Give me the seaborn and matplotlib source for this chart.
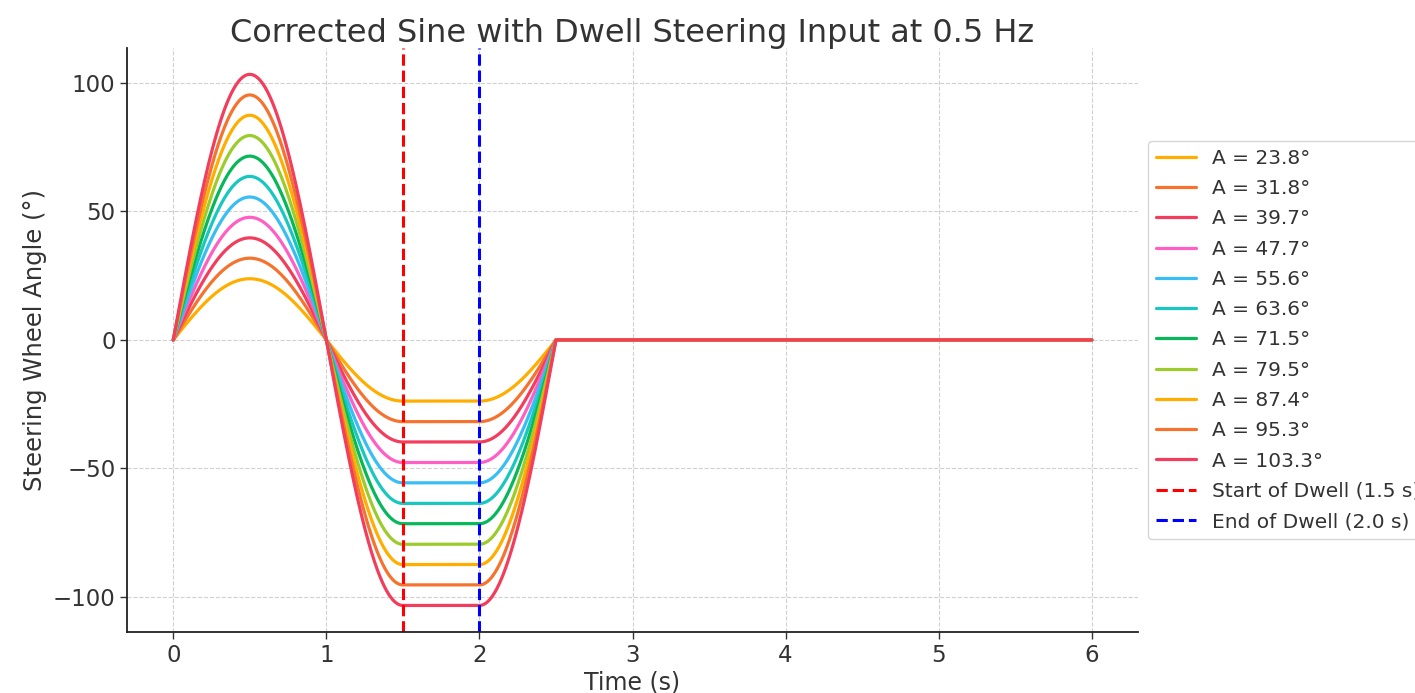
import numpy as np
import pandas as pd
import matplotlib
matplotlib.use("Agg")
import matplotlib.pyplot as plt
import seaborn as sns

# steering input parameters
amplitudes = [23.8, 31.8, 39.7, 47.7, 55.6, 63.6, 71.5, 79.5, 87.4, 95.3, 103.3]
freq_hz = 0.5
dwell_start = 1.5
dwell_end = 2.0
t_end = 6.0

colors = ['#FFAE00', '#F5732F', '#F23D5C', '#FF5FC4', '#38BEF5', '#18C8C0',
          '#06B85A', '#9CCB2C', '#FFAE00', '#F5732F', '#F23D5C']

# sine with dwell profile for each amplitude
t = np.linspace(0, t_end, 1201)
w = 2 * np.pi * freq_hz
rows = []
for a in amplitudes:
    y = np.where(t <= dwell_start, a * np.sin(w * t), 0.0)
    y = np.where((t > dwell_start) & (t <= dwell_end), -a, y)
    back = t - (dwell_end - dwell_start)
    y = np.where((t > dwell_end) & (back <= 1 / freq_hz), a * np.sin(w * back), y)
    rows.append(pd.DataFrame({'t': t, 'angle': y, 'label': f'A = {a}°'}))
df = pd.concat(rows, ignore_index=True)

sns.set_theme(style='white')
plt.rcParams['font.family'] = ['DejaVu Sans']
plt.rcParams['text.color'] = '#333333'
plt.rcParams['axes.labelcolor'] = '#333333'
plt.rcParams['xtick.color'] = '#333333'
plt.rcParams['ytick.color'] = '#333333'

fig, ax = plt.subplots(figsize=(14.15, 6.93), dpi=100)
fig.subplots_adjust(left=0.09, right=0.804, top=0.931, bottom=0.088)

sns.lineplot(data=df, x='t', y='angle', hue='label', palette=colors,
             linewidth=2.3, ax=ax, legend=True)
ax.axvline(dwell_start, color='red', linestyle='--', linewidth=2.2,
           label=f'Start of Dwell ({dwell_start} s)')
ax.axvline(dwell_end, color='blue', linestyle='--', linewidth=2.2,
           label=f'End of Dwell ({dwell_end} s)')

ax.set_title(f'Corrected Sine with Dwell Steering Input at {freq_hz} Hz',
             fontsize=23, pad=4)
ax.set_xlabel('Time (s)', fontsize=17, labelpad=3)
ax.set_ylabel('Steering Wheel Angle (°)', fontsize=17.5, labelpad=4)
ax.tick_params(axis='both', labelsize=16.5, length=5, width=1, color='#333333',
               direction='out', bottom=True, left=True)
ax.grid(True, linestyle='--', color='#d0d0d0', linewidth=0.8)
for s in ['top', 'right']:
    ax.spines[s].set_visible(False)
for s in ['left', 'bottom']:
    ax.spines[s].set_color('#222222')
    ax.spines[s].set_linewidth(1.3)

handles, labels = ax.get_legend_handles_labels()
ax.legend(handles, labels, loc='center left', bbox_to_anchor=(1.0, 0.5),
          fontsize=14.5, labelspacing=0.56, frameon=True, edgecolor='#cccccc')

fig.savefig('out.png', dpi=100)
